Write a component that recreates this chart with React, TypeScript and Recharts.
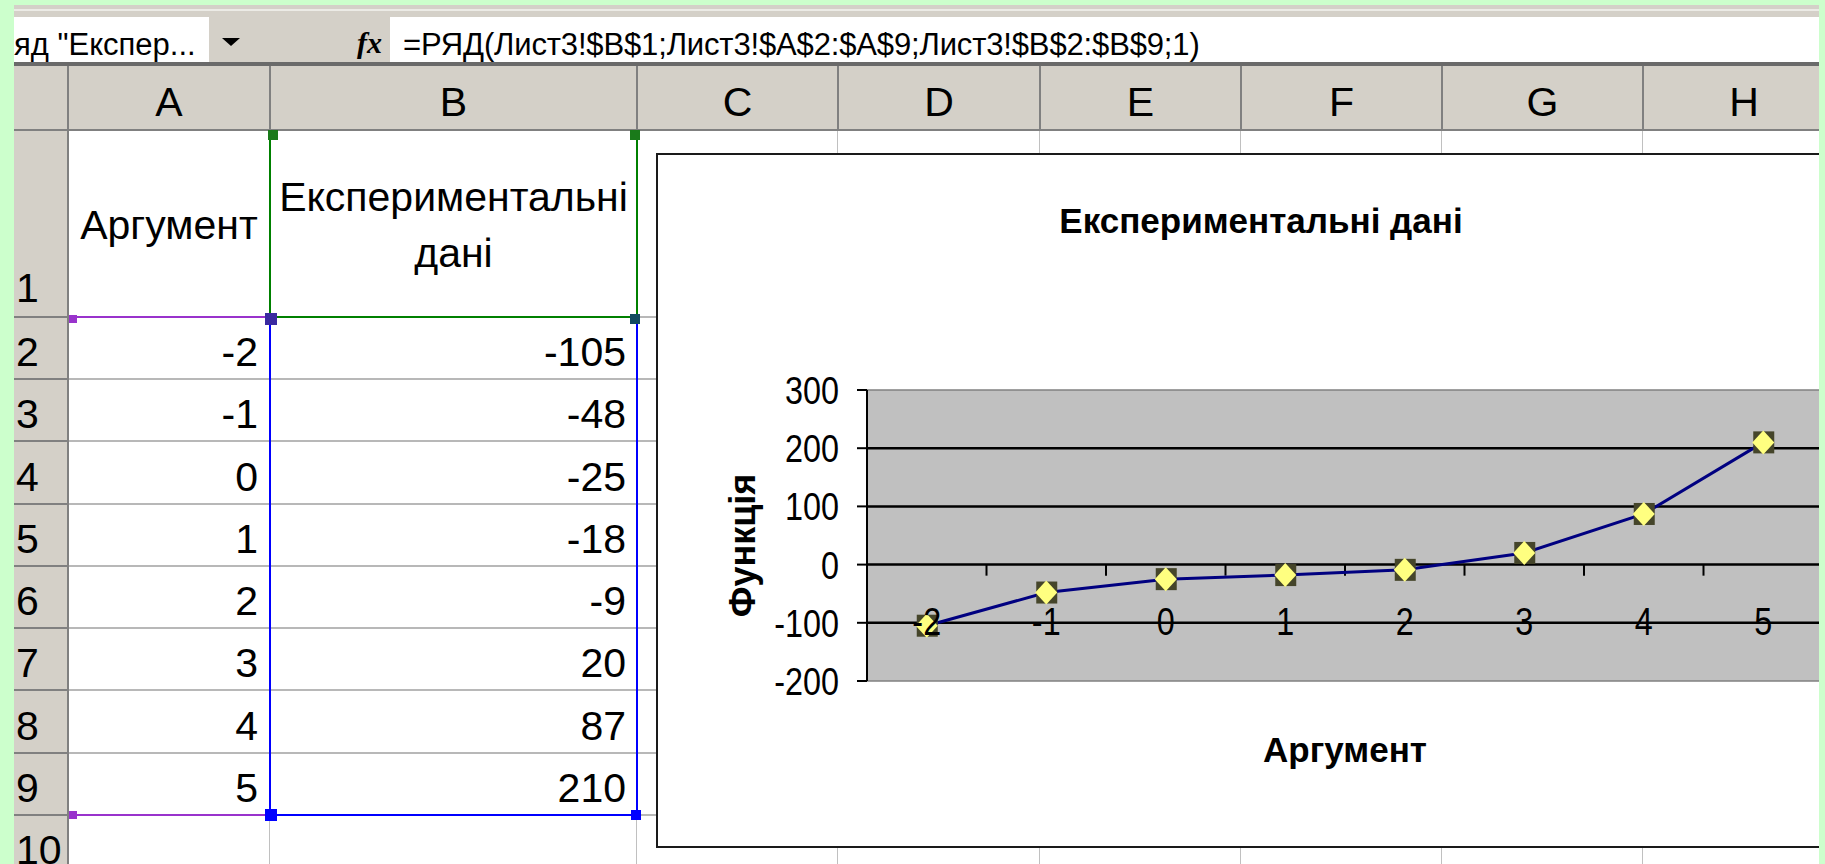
import React from 'react'
import { LineChart, Line, XAxis, YAxis, CartesianGrid, ReferenceLine } from 'recharts'

// Аргумент / Експериментальні дані (rows 2–9 of the sheet)
const argument = [-2, -1, 0, 1, 2, 3, 4, 5]
const experimental = [-105, -48, -25, -18, -9, 20, 87, 210]

const yTicks = [-200, -100, 0, 100, 200, 300]
const yGrid = [-100, 0, 100, 200]
const columns = ['A', 'B', 'C', 'D', 'E', 'F', 'G', 'H']

const chartTitle = 'Експериментальні дані'
const xTitle = 'Аргумент'
const yTitle = 'Функція'
const headerA = 'Аргумент'
const headerB = ['Експериментальні', 'дані']
const formula = '=РЯД(Лист3!$B$1;Лист3!$A$2:$A$9;Лист3!$B$2:$B$9;1)'
const nameBox = 'яд "Експер...'

const data = argument.map((a, i) => ({ arg: a, value: experimental[i] }))
// Excel draws category tick marks between the categories
const xBoundaries = argument.slice(1).map((a) => a - 0.5)

const FONT = '"Liberation Sans", Arial, sans-serif'
const GREEN = '#ccffcc'
const FACE = '#d4d0c8'

// sheet geometry
const colEdges = [68, 270, 637, 838, 1040, 1241, 1442, 1643, 1845]
const rowEdges = [131, 317, 379, 441, 504, 566, 628, 690, 753, 815, 877]

const CHART_LEFT = 656
const CHART_TOP = 153
const CHART_W = 1210
const CHART_H = 695

function Box({ l, t, w, h, bg, style }: any) {
  return <div style={{ position: 'absolute', left: l, top: t, width: w, height: h, background: bg, ...style }} />
}

// lineHeight == fontSize puts the baseline about 0.85em below the top
function Txt({ left, width, baseline, align = 'left', size = 41, style, children }: any) {
  return (
    <div
      style={{
        position: 'absolute',
        left,
        width,
        top: baseline - Math.round(size * 0.85),
        fontSize: size,
        lineHeight: `${size}px`,
        textAlign: align,
        whiteSpace: 'nowrap',
        color: '#000',
        ...style,
      }}
    >
      {children}
    </div>
  )
}

function Handle({ x, y, size = 9, color }: any) {
  return <Box l={x - size / 2} t={y - size / 2} w={size} h={size} bg={color} />
}

const XTick = ({ x, y, payload }: any) => (
  <g transform={`translate(${x},${y})`}>
    <text y={-46} textAnchor="middle" fontSize={39} fontFamily={FONT} fill="#000" transform="scale(0.83,1)">
      {payload.value}
    </text>
  </g>
)

const YTick = ({ x, y, payload }: any) => (
  <g transform={`translate(${x},${y})`}>
    <text y={14} textAnchor="end" fontSize={39} fontFamily={FONT} fill="#000" transform="scale(0.83,1)">
      {payload.value}
    </text>
  </g>
)

const XTitle = (props: any) => {
  const vb = props.viewBox || { x: 211, y: 528, width: 956 }
  return (
    <text x={vb.x + vb.width / 2} y={vb.y + 81} textAnchor="middle" fontSize={35} fontWeight="bold" fontFamily={FONT} fill="#000">
      {xTitle}
    </text>
  )
}

const YTitle = (props: any) => {
  const vb = props.viewBox || { x: 121, y: 237, height: 291 }
  const cx = vb.x - 35
  const cy = vb.y + vb.height / 2 + 10
  return (
    <text
      x={cx}
      y={cy}
      transform={`rotate(-90 ${cx} ${cy})`}
      textAnchor="middle"
      dominantBaseline="central"
      fontSize={36}
      fontWeight="bold"
      fontFamily={FONT}
      fill="#000"
    >
      {yTitle}
    </text>
  )
}

// Excel diamond marker: yellow diamond on a dark square
const Marker = ({ cx, cy }: any) => {
  if (cx == null || cy == null) return null
  return (
    <g>
      <rect x={cx - 10} y={cy - 11} width={21} height={22} fill="#45452a" />
      <polygon points={`${cx},${cy - 12} ${cx + 11},${cy} ${cx},${cy + 12} ${cx - 11},${cy}`} fill="#ffff80" />
    </g>
  )
}

function ExcelChart() {
  return (
    <LineChart width={CHART_W} height={CHART_H} data={data} margin={{ top: 237, right: 43, bottom: 137, left: 121 }}>
      <CartesianGrid horizontal={false} vertical={false} fill="#c0c0c0" fillOpacity={1} />
      <ReferenceLine y={300} stroke="#808080" strokeWidth={1.5} />
      <ReferenceLine y={-200} stroke="#808080" strokeWidth={1.5} />
      {yGrid.map((v) => (
        <ReferenceLine key={`g${v}`} y={v} stroke="#000" strokeWidth={2.5} />
      ))}
      {xBoundaries.map((b) => (
        <ReferenceLine
          key={`t${b}`}
          segment={[
            { x: b, y: 0 },
            { x: b, y: -19 },
          ]}
          stroke="#000"
          strokeWidth={2}
        />
      ))}
      <XAxis
        dataKey="arg"
        type="number"
        domain={[-2.5, 5.5]}
        ticks={argument}
        interval={0}
        axisLine={false}
        tickLine={false}
        tickSize={0}
        tickMargin={0}
        height={30}
        tick={<XTick />}
        label={{ content: XTitle }}
      />
      <YAxis
        type="number"
        domain={[-200, 300]}
        ticks={yTicks}
        interval={0}
        width={90}
        tickSize={10}
        tickMargin={18}
        axisLine={{ stroke: '#000', strokeWidth: 2 }}
        tickLine={{ stroke: '#000', strokeWidth: 2 }}
        tick={<YTick />}
        label={{ content: YTitle }}
      />
      <Line
        dataKey="value"
        stroke="#000080"
        strokeWidth={3}
        dot={<Marker />}
        activeDot={false}
        isAnimationActive={false}
      />
    </LineChart>
  )
}

export default function App() {
  const rowLabels = rowEdges.slice(0, -1).map((_, i) => String(i + 1))
  return (
    <div
      style={{
        position: 'absolute',
        left: 0,
        top: 0,
        width: 1825,
        height: 864,
        overflow: 'hidden',
        background: '#fff',
        fontFamily: FONT,
      }}
    >
      {/* toolbar remains + formula bar */}
      <Box l={0} t={0} w={1825} h={67} bg={FACE} />
      <Box l={0} t={9} w={1825} h={2} bg="#ecebe6" />
      <Box l={14} t={17} w={195} h={46} bg="#fff" />
      <Box l={390} t={17} w={1435} h={46} bg="#fff" />
      <Txt left={14} baseline={55} size={31}>{nameBox}</Txt>
      <div
        style={{
          position: 'absolute',
          left: 222,
          top: 38,
          width: 0,
          height: 0,
          borderLeft: '9px solid transparent',
          borderRight: '9px solid transparent',
          borderTop: '8px solid #000',
        }}
      />
      <Txt left={357} baseline={54} size={30} style={{ fontFamily: '"Liberation Serif", serif', fontStyle: 'italic', fontWeight: 'bold' }}>
        fx
      </Txt>
      <Txt left={403} baseline={55} size={31} style={{ letterSpacing: -0.15 }}>{formula}</Txt>
      <Box l={0} t={62} w={1825} h={4} bg="#6a6a6a" />

      {/* column headers */}
      <Box l={0} t={66} w={1825} h={65} bg={FACE} />
      <Box l={0} t={129} w={1825} h={2} bg="#808080" />
      {columns.map((c, i) => (
        <React.Fragment key={c}>
          <Box l={colEdges[i] - 1} t={66} w={2} h={65} bg="#808080" />
          <Txt left={colEdges[i]} width={colEdges[i + 1] - colEdges[i]} baseline={117} align="center">
            {c}
          </Txt>
        </React.Fragment>
      ))}

      {/* cell grid */}
      {colEdges.slice(1).map((x) => (
        <Box key={`v${x}`} l={x - 1} t={131} w={1} h={733} bg="#c0c0c0" />
      ))}
      {rowEdges.slice(1).map((y) => (
        <Box key={`h${y}`} l={68} t={y - 1} w={1757} h={2} bg="#b8b8b8" />
      ))}

      {/* row headers */}
      <Box l={0} t={131} w={68} h={733} bg={FACE} />
      <Box l={67} t={131} w={2} h={733} bg="#808080" />
      {rowLabels.map((r, i) => (
        <React.Fragment key={`r${r}`}>
          <Box l={0} t={rowEdges[i + 1] - 1} w={68} h={2} bg="#808080" />
          <Txt left={16} baseline={rowEdges[i + 1] - (i === 0 ? 14 : 12)}>{r}</Txt>
        </React.Fragment>
      ))}

      {/* cell contents */}
      <Txt left={colEdges[0]} width={colEdges[1] - colEdges[0]} baseline={240} align="center">{headerA}</Txt>
      <Txt left={colEdges[1]} width={colEdges[2] - colEdges[1]} baseline={212} align="center">{headerB[0]}</Txt>
      <Txt left={colEdges[1]} width={colEdges[2] - colEdges[1]} baseline={268} align="center">{headerB[1]}</Txt>
      {argument.map((a, i) => (
        <React.Fragment key={`c${i}`}>
          <Txt left={colEdges[0]} width={colEdges[1] - colEdges[0] - 12} baseline={rowEdges[i + 2] - 12} align="right">
            {a}
          </Txt>
          <Txt left={colEdges[1]} width={colEdges[2] - colEdges[1] - 11} baseline={rowEdges[i + 2] - 12} align="right">
            {experimental[i]}
          </Txt>
        </React.Fragment>
      ))}

      {/* range highlights of the selected series */}
      <Box l={70} t={316} w={200} h={2} bg="#9933cc" />
      <Box l={70} t={814} w={200} h={2} bg="#9933cc" />
      <Handle x={73} y={319} size={8} color="#9933cc" />
      <Handle x={73} y={815} size={8} color="#9933cc" />
      <Box l={269} t={131} w={2} h={186} bg="#008000" />
      <Box l={636} t={131} w={2} h={186} bg="#008000" />
      <Box l={270} t={316} w={367} h={2} bg="#008000" />
      <Box l={269} t={318} w={2} h={497} bg="#0000ff" />
      <Box l={636} t={318} w={2} h={497} bg="#0000ff" />
      <Box l={270} t={814} w={367} h={2} bg="#0000ff" />
      <Handle x={273} y={135} size={10} color="#1a7a1a" />
      <Handle x={635} y={135} size={10} color="#1a7a1a" />
      <Handle x={271} y={319} size={12} color="#3a2aa0" />
      <Handle x={635} y={319} size={10} color="#124a60" />
      <Handle x={271} y={815} size={12} color="#0000ff" />
      <Handle x={636} y={815} size={10} color="#0000ff" />

      {/* embedded chart */}
      <div style={{ position: 'absolute', left: CHART_LEFT, top: CHART_TOP, width: CHART_W, height: CHART_H, background: '#fff' }}>
        <ExcelChart />
        <div
          style={{
            position: 'absolute',
            left: 0,
            width: CHART_W,
            top: 233 - CHART_TOP - 30,
            fontSize: 35,
            lineHeight: '35px',
            fontWeight: 'bold',
            textAlign: 'center',
            color: '#000',
          }}
        >
          {chartTitle}
        </div>
        <div
          style={{
            position: 'absolute',
            left: 0,
            top: 0,
            width: CHART_W,
            height: CHART_H,
            boxSizing: 'border-box',
            border: '2px solid #1a1a1a',
            pointerEvents: 'none',
          }}
        />
      </div>

      {/* slide frame */}
      <Box l={0} t={0} w={14} h={864} bg={GREEN} />
      <Box l={0} t={0} w={1825} h={5} bg={GREEN} />
      <Box l={1819} t={0} w={6} h={864} bg={GREEN} />
    </div>
  )
}
